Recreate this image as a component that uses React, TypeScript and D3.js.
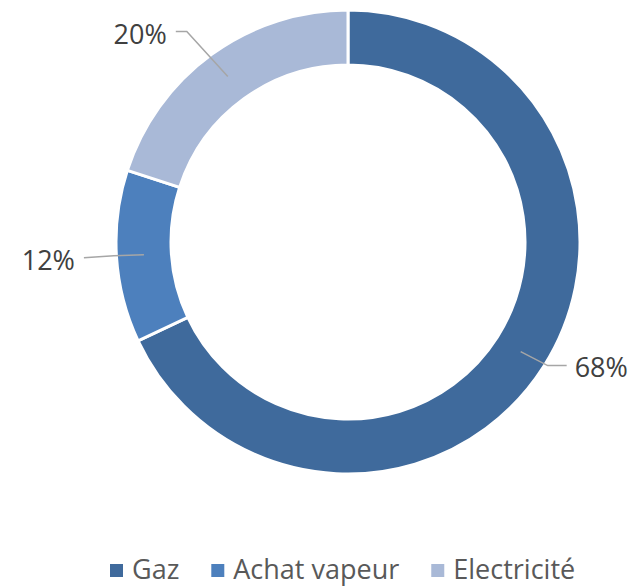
import React, { useEffect, useRef } from 'react';
import * as d3 from 'd3';

const categories = ['Gaz', 'Achat vapeur', 'Electricité'];
const shares = [68, 12, 20];
const colors = ['#3F6A9C', '#4D80BD', '#A9B9D7'];

const App = () => {
  const svgRef = useRef<SVGSVGElement>(null);

  useEffect(() => {
    const width = 637;
    const height = 587;
    const cx = 348;
    const cy = 242;
    const outer = 232;
    const inner = 177;
    const font = '"Open Sans", sans-serif';

    const svg = d3.select(svgRef.current)
      .attr('width', width)
      .attr('height', height);
    svg.selectAll('*').remove();

    const g = svg.append('g').attr('transform', `translate(${cx},${cy})`);

    const pie = d3.pie<number>().value(d => d).sort(null);
    const data = pie(shares);
    const arc = d3.arc<d3.PieArcDatum<number>>().innerRadius(inner).outerRadius(outer);

    g.selectAll('path.slice')
      .data(data)
      .enter()
      .append('path')
      .attr('class', 'slice')
      .attr('d', arc)
      .attr('fill', (_, i) => colors[i])
      .attr('stroke', '#fff')
      .attr('stroke-width', 3);

    // leader lines: elbow offsets relative to centroid, then label anchor
    const leaders = [
      { bend: [27, 14], end: [46, 14], text: [54, 25], anchor: 'start' },
      { bend: [-30, 1], end: [-60, 3], text: [-69, 15], anchor: 'end' },
      { bend: [-41, -45], end: [-52, -45], text: [-61, -33], anchor: 'end' },
    ];

    data.forEach((d, i) => {
      const [x, y] = arc.centroid(d);
      const l = leaders[i];
      g.append('path')
        .attr('d', d3.line()([[x, y], [x + l.bend[0], y + l.bend[1]], [x + l.end[0], y + l.end[1]]]))
        .attr('fill', 'none')
        .attr('stroke', '#A6A6A6')
        .attr('stroke-width', 1.5);
      g.append('text')
        .attr('x', x + l.text[0])
        .attr('y', y + l.text[1])
        .attr('text-anchor', l.anchor)
        .attr('font-family', font)
        .attr('font-size', 27)
        .attr('fill', '#404040')
        .text(`${d.data}%`);
    });

    // legend
    const legend = svg.append('g').attr('transform', 'translate(110,579)');
    let xPos = 0;
    categories.forEach((c, i) => {
      const item = legend.append('g').attr('transform', `translate(${xPos},0)`);
      item.append('rect')
        .attr('x', 0)
        .attr('y', -15)
        .attr('width', 13)
        .attr('height', 13)
        .attr('fill', colors[i]);
      const t = item.append('text')
        .attr('x', 22)
        .attr('y', 0)
        .attr('font-family', font)
        .attr('font-size', 27)
        .attr('fill', '#595959')
        .text(c);
      const w = (t.node() as SVGTextElement).getComputedTextLength();
      xPos += 22 + w + 32;
    });
  }, []);

  return (
    <svg ref={svgRef} style={{ position: 'absolute', left: 0, top: 0 }}></svg>
  );
};

export default App;
